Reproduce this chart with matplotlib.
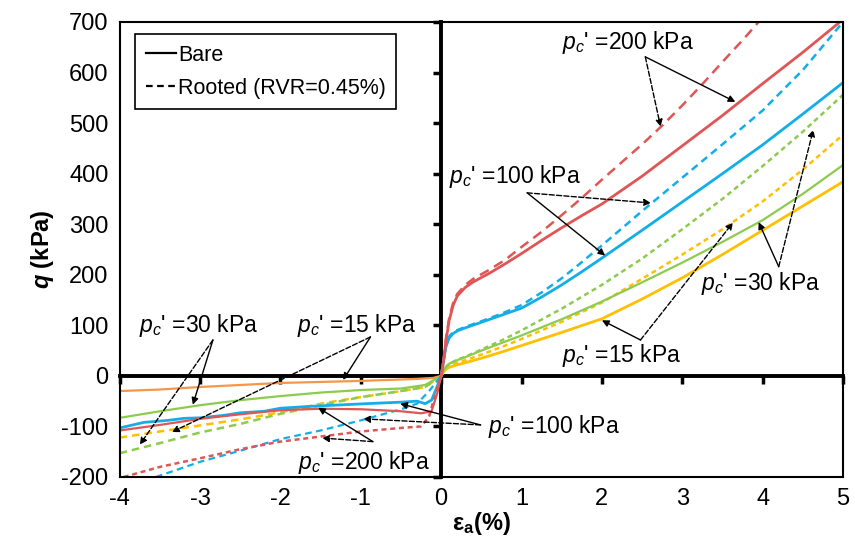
import numpy as np
import matplotlib
matplotlib.use("Agg")
import matplotlib.pyplot as plt

plt.rcParams['font.family'] = ['Liberation Sans', 'DejaVu Sans']
plt.rcParams['mathtext.fontset'] = 'custom'
plt.rcParams['mathtext.rm'] = 'Liberation Sans'
plt.rcParams['mathtext.it'] = 'Liberation Sans:italic'
plt.rcParams['mathtext.bf'] = 'Liberation Sans:bold'
plt.rcParams['mathtext.bfit'] = 'Liberation Sans:bold:italic'
plt.rcParams['axes.unicode_minus'] = False

# ---- compression side (eps_a > 0) ----
red_bare_x = [0, 0.03, 0.06, 0.1, 0.15, 0.2, 0.3, 0.4, 0.6, 0.8, 1, 1.25, 1.5, 1.75, 2, 2.5, 3, 3.5, 4, 4.5, 5]
red_bare_y = [0, 30, 70, 110, 140, 158, 175, 186, 203, 222, 242, 268, 293, 317, 340, 395, 455, 515, 578, 640, 705]
red_root_x = [0, 0.03, 0.06, 0.1, 0.15, 0.2, 0.3, 0.4, 0.6, 0.8, 1, 1.25, 1.5, 1.75, 2, 2.25, 2.5, 2.75, 3, 3.25, 3.5, 3.75, 3.95]
red_root_y = [0, 30, 75, 115, 145, 162, 180, 192, 210, 230, 255, 285, 318, 352, 388, 423, 458, 495, 535, 577, 621, 664, 700]

blue_bare_x = [0, 0.03, 0.06, 0.1, 0.15, 0.2, 0.3, 0.5, 0.75, 1, 1.25, 1.5, 1.75, 2, 2.5, 3, 3.5, 4, 4.5, 5]
blue_bare_y = [0, 30, 58, 75, 84, 89, 95, 106, 120, 134, 156, 180, 206, 233, 288, 344, 400, 457, 518, 580]
blue_root_x = [0, 0.03, 0.06, 0.1, 0.15, 0.3, 0.5, 0.75, 1, 1.25, 1.5, 1.75, 2, 2.5, 3, 3.5, 4, 4.5, 5]
blue_root_y = [0, 30, 60, 78, 87, 97, 108, 123, 140, 165, 193, 225, 258, 326, 392, 458, 525, 605, 700]

green_bare_x = [0, 0.03, 0.06, 0.1, 0.2, 0.3, 0.5, 0.75, 1, 1.5, 2, 2.5, 3, 3.5, 4, 4.5, 5]
green_bare_y = [0, 10, 18, 24, 31, 37, 50, 65, 80, 112, 147, 185, 224, 265, 308, 360, 417]
green_root_x = [0, 0.03, 0.06, 0.1, 0.2, 0.3, 0.5, 0.75, 1, 1.5, 2, 2.5, 3, 3.5, 4, 4.5, 5]
green_root_y = [0, 10, 18, 24, 32, 38, 52, 70, 90, 133, 180, 232, 290, 350, 415, 483, 556]

yellow_bare_x = [0, 0.03, 0.06, 0.1, 0.2, 0.3, 0.5, 0.75, 1, 1.5, 2, 2.5, 3, 3.5, 4, 4.5, 5]
yellow_bare_y = [0, 8, 13, 17, 22, 26, 35, 47, 60, 86, 113, 152, 194, 240, 288, 336, 384]
yellow_root_x = [0, 0.03, 0.06, 0.1, 0.2, 0.3, 0.5, 0.75, 1, 1.5, 2, 2.5, 3, 3.5, 4, 4.5, 5]
yellow_root_y = [0, 9, 15, 20, 26, 31, 42, 57, 73, 107, 145, 192, 240, 290, 345, 408, 477]

# ---- extension side (eps_a < 0) ----
orange_bare_x = [-4, -3.5, -3, -2, -1, -0.3, -0.1, 0]
orange_bare_y = [-30, -27, -22, -14, -10, -6, -4, 0]

green_ext_bare_x = [-4, -3.5, -3, -2.5, -2, -1.5, -1, -0.5, -0.2, 0]
green_ext_bare_y = [-83, -70, -58, -48, -40, -33, -28, -25, -18, 0]
green_ext_root_x = [-4, -3.5, -3, -2.5, -2, -1.5, -1, -0.5, -0.2, 0]
green_ext_root_y = [-153, -133, -112, -95, -75, -58, -42, -30, -22, 0]

yellow_ext_root_x = [-4, -3.5, -3, -2.5, -2, -1.5, -1, -0.5, -0.2, 0]
yellow_ext_root_y = [-122, -110, -98, -86, -72, -55, -42, -30, -22, 0]

blue_ext_bare_x = [-4, -3.7, -3.4, -3.2, -3, -2.7, -2.5, -2.2, -2, -1.6, -1.2, -0.8, -0.5, -0.3, -0.2, -0.12, -0.06, 0]
blue_ext_bare_y = [-103, -92, -88, -84, -83, -78, -73, -70, -64, -60, -57, -54, -52, -50, -55, -48, -25, 0]
blue_ext_root_x = [-3.55, -3, -2.5, -2, -1.5, -1, -0.5, -0.3, -0.15, 0]
blue_ext_root_y = [-200, -170, -148, -125, -108, -88, -66, -55, -30, 0]

red_ext_bare_x = [-4, -3.5, -3, -2.5, -2, -1.5, -1, -0.5, -0.25, -0.12, -0.05, 0]
red_ext_bare_y = [-108, -97, -85, -76, -68, -65, -66, -70, -74, -70, -35, 0]
red_ext_root_x = [-3.95, -3.5, -3, -2.5, -2, -1.5, -1, -0.5, -0.25, -0.15, -0.08, 0]
red_ext_root_y = [-200, -180, -163, -145, -130, -120, -110, -103, -100, -80, -40, 0]

x_ticks = [-4, -3, -2, -1, 0, 1, 2, 3, 4, 5]
y_ticks = [-200, -100, 0, 100, 200, 300, 400, 500, 600, 700]

RED = '#E05555'
BLUE = '#12AEE8'
GREEN = '#8CCB4E'
YELLOW = '#FFC000'
ORANGE = '#F79646'

fig = plt.figure(figsize=(8.55, 5.59), dpi=100)
ax = fig.add_axes([0.140, 0.1467, 0.846, 0.814])

lw = 2.0
ax.plot(orange_bare_x, orange_bare_y, color=ORANGE, lw=1.6)
ax.plot(yellow_bare_x, yellow_bare_y, color=YELLOW, lw=lw)
ax.plot(yellow_root_x, yellow_root_y, color=YELLOW, lw=1.8, dashes=(2, 1.5))
ax.plot(yellow_ext_root_x, yellow_ext_root_y, color=YELLOW, lw=1.8, dashes=(3, 2))
ax.plot(green_bare_x, green_bare_y, color=GREEN, lw=1.6)
ax.plot(green_root_x, green_root_y, color=GREEN, lw=1.8, dashes=(2, 1.5))
ax.plot(green_ext_bare_x, green_ext_bare_y, color=GREEN, lw=1.6)
ax.plot(green_ext_root_x, green_ext_root_y, color=GREEN, lw=1.8, dashes=(3, 2))
ax.plot(blue_bare_x, blue_bare_y, color=BLUE, lw=lw)
ax.plot(blue_root_x, blue_root_y, color=BLUE, lw=1.8, dashes=(3, 2))
ax.plot(blue_ext_bare_x, blue_ext_bare_y, color=BLUE, lw=lw)
ax.plot(blue_ext_root_x, blue_ext_root_y, color=BLUE, lw=1.6, dashes=(3, 2))
ax.plot(red_bare_x, red_bare_y, color=RED, lw=lw)
ax.plot(red_root_x, red_root_y, color=RED, lw=1.8, dashes=(4, 2.5))
ax.plot(red_ext_bare_x, red_ext_bare_y, color=RED, lw=1.6)
ax.plot(red_ext_root_x, red_ext_root_y, color=RED, lw=1.8, dashes=(2, 1.5))

ax.set_xlim(-4, 5)
ax.set_ylim(-200, 700)
ax.set_xticks(x_ticks)
ax.set_yticks(y_ticks)
ax.tick_params(length=0, labelsize=17, pad=8)
for s in ax.spines.values():
    s.set_linewidth(1.5)

# axes through the origin with the tick marks
secx = ax.secondary_xaxis(0, transform=ax.transData)
secx.set_xticks(x_ticks)
secx.tick_params(direction='out', length=6, width=2.5, labelbottom=False)
secx.spines['bottom'].set_linewidth(2.8)
secy = ax.secondary_yaxis(0, transform=ax.transData)
secy.set_yticks(y_ticks)
secy.tick_params(direction='out', length=6, width=2.5, labelleft=False)
secy.spines['left'].set_linewidth(2.8)

ax.set_ylabel(r'$\mathbfit{q}$ (kPa)', fontsize=17, fontweight='bold', labelpad=4)
ax.set_xlabel(r'$\mathbf{\varepsilon}_\mathbf{a}$(%)', fontsize=17, fontweight='bold', labelpad=0)

# legend
ax.plot([], [], color='black', lw=1.6, label='Bare')
ax.plot([], [], color='black', lw=1.6, dashes=(3, 2), label='Rooted (RVR=0.45%)')
leg = ax.legend(loc='upper left', bbox_to_anchor=(0.006, 0.997), fontsize=15.5,
                handlelength=1.4, handletextpad=0.1, labelspacing=0.55,
                fancybox=False, framealpha=1, borderpad=0.5)
leg.get_frame().set_edgecolor('black')
leg.get_frame().set_linewidth(1.2)


def label(x, y, txt):
    ax.text(x, y, r"$p_c$' =" + txt, fontsize=16.5, ha='center', va='center')


def arrow(start, end, dashed):
    ax.annotate('', xy=end, xytext=start,
                arrowprops=dict(arrowstyle='-|>', color='black', lw=1.0,
                                linestyle='--' if dashed else '-',
                                mutation_scale=10, shrinkA=0, shrinkB=0))


label(2.33, 660, '200 kPa')
arrow((2.54, 631), (3.66, 542), False)
arrow((2.54, 631), (2.73, 493), True)

label(0.92, 394, '100 kPa')
arrow((1.07, 362), (2.04, 238), False)
arrow((1.07, 362), (2.61, 342), True)

label(3.98, 182, '30 kPa')
arrow((4.20, 216), (3.95, 304), False)
arrow((4.20, 216), (4.63, 487), True)

label(2.24, 40, '15 kPa')
arrow((2.48, 71), (2.0, 110), False)
arrow((2.48, 71), (3.63, 303), True)

label(-3.02, 99, '30 kPa')
arrow((-2.84, 71), (-3.09, -57), False)
arrow((-2.84, 71), (-3.75, -136), True)

label(-1.05, 99, '15 kPa')
arrow((-0.88, 77), (-1.22, -8), False)
arrow((-0.88, 77), (-3.35, -111), True)

label(1.41, -101, '100 kPa')
arrow((0.49, -97), (-0.51, -55), False)
arrow((0.49, -97), (-0.97, -85), True)

label(-0.96, -172, '200 kPa')
arrow((-0.85, -130), (-1.53, -63), False)
arrow((-0.85, -130), (-1.48, -123), True)

fig.savefig('out.png', dpi=100)
